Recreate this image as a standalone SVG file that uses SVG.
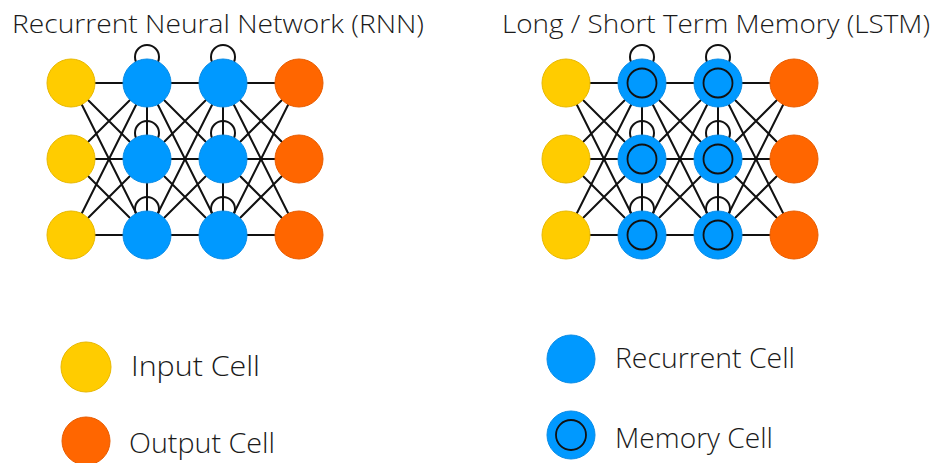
<svg xmlns="http://www.w3.org/2000/svg" width="934" height="463" viewBox="0 0 934 463">
  <style>
    .title { font-family: "Open Sans", "Liberation Sans", sans-serif; font-weight: 300; font-size: 26px; fill: #1a1a1a; }
    .label { font-family: "Open Sans", "Liberation Sans", sans-serif; font-weight: 300; font-size: 28px; fill: #1a1a1a; }
    .edge { fill: none; stroke: #111; stroke-width: 2; }
    .loop { fill: none; stroke: #111; stroke-width: 2; }
    .input { fill: #ffcc00; stroke: #e8b800; stroke-width: 1; }
    .output { fill: #ff6600; stroke: #e85c00; stroke-width: 1; }
    .recurrent { fill: #0099ff; stroke: #0a8ce6; stroke-width: 1; }
    .memory-core { fill: #0099ff; stroke: #111; stroke-width: 1.8; }
  </style>
  <defs>
    <circle id="cell" r="24"/>
  </defs>
  <rect width="934" height="463" fill="#ffffff"/>

  <!-- titles -->
  <text class="title" x="12" y="33" textLength="412" lengthAdjust="spacingAndGlyphs">Recurrent Neural Network (RNN)</text>
  <text class="title" x="502" y="33" textLength="428" lengthAdjust="spacingAndGlyphs">Long / Short Term Memory (LSTM)</text>

  <!-- connectors (drawn beneath the cells) -->
  <g id="connectors">
    <!-- RNN: input -> hidden 1 -->
    <path class="edge" d="M71 83L147 83M71 83L147 159M71 83L147 235M71 159L147 83M71 159L147 159M71 159L147 235M71 235L147 83M71 235L147 159M71 235L147 235"/>
    <!-- RNN: hidden 1 -> hidden 2 -->
    <path class="edge" d="M147 83L223 83M147 83L223 159M147 83L223 235M147 159L223 83M147 159L223 159M147 159L223 235M147 235L223 83M147 235L223 159M147 235L223 235"/>
    <!-- RNN: hidden 2 -> output -->
    <path class="edge" d="M223 83L299 83M223 83L299 159M223 83L299 235M223 159L299 83M223 159L299 159M223 159L299 235M223 235L299 83M223 235L299 159M223 235L299 235"/>
    <!-- RNN: links within hidden columns -->
    <path class="edge" d="M147 83L147 235M223 83L223 235"/>
    <!-- RNN: self loops -->
    <circle class="loop" cx="147" cy="57" r="12"/>
    <circle class="loop" cx="147" cy="133" r="12"/>
    <circle class="loop" cx="147" cy="209" r="12"/>
    <circle class="loop" cx="223" cy="57" r="12"/>
    <circle class="loop" cx="223" cy="133" r="12"/>
    <circle class="loop" cx="223" cy="209" r="12"/>

    <!-- LSTM: input -> hidden 1 -->
    <path class="edge" d="M566 83L642 83M566 83L642 159M566 83L642 235M566 159L642 83M566 159L642 159M566 159L642 235M566 235L642 83M566 235L642 159M566 235L642 235"/>
    <!-- LSTM: hidden 1 -> hidden 2 -->
    <path class="edge" d="M642 83L718 83M642 83L718 159M642 83L718 235M642 159L718 83M642 159L718 159M642 159L718 235M642 235L718 83M642 235L718 159M642 235L718 235"/>
    <!-- LSTM: hidden 2 -> output -->
    <path class="edge" d="M718 83L794 83M718 83L794 159M718 83L794 235M718 159L794 83M718 159L794 159M718 159L794 235M718 235L794 83M718 235L794 159M718 235L794 235"/>
    <!-- LSTM: links within hidden columns -->
    <path class="edge" d="M642 83L642 235M718 83L718 235"/>
    <!-- LSTM: self loops -->
    <circle class="loop" cx="642" cy="57" r="12"/>
    <circle class="loop" cx="642" cy="133" r="12"/>
    <circle class="loop" cx="642" cy="209" r="12"/>
    <circle class="loop" cx="718" cy="57" r="12"/>
    <circle class="loop" cx="718" cy="133" r="12"/>
    <circle class="loop" cx="718" cy="209" r="12"/>
  </g>

  <!-- RNN cells -->
  <g id="rnn-in-1"><use href="#cell" class="input" x="71" y="83"/></g>
  <g id="rnn-in-2"><use href="#cell" class="input" x="71" y="159"/></g>
  <g id="rnn-in-3"><use href="#cell" class="input" x="71" y="235"/></g>
  <g id="rnn-h1-1"><use href="#cell" class="recurrent" x="147" y="83"/></g>
  <g id="rnn-h1-2"><use href="#cell" class="recurrent" x="147" y="159"/></g>
  <g id="rnn-h1-3"><use href="#cell" class="recurrent" x="147" y="235"/></g>
  <g id="rnn-h2-1"><use href="#cell" class="recurrent" x="223" y="83"/></g>
  <g id="rnn-h2-2"><use href="#cell" class="recurrent" x="223" y="159"/></g>
  <g id="rnn-h2-3"><use href="#cell" class="recurrent" x="223" y="235"/></g>
  <g id="rnn-out-1"><use href="#cell" class="output" x="299" y="83"/></g>
  <g id="rnn-out-2"><use href="#cell" class="output" x="299" y="159"/></g>
  <g id="rnn-out-3"><use href="#cell" class="output" x="299" y="235"/></g>

  <!-- LSTM cells -->
  <g id="lstm-in-1"><use href="#cell" class="input" x="566" y="83"/></g>
  <g id="lstm-in-2"><use href="#cell" class="input" x="566" y="159"/></g>
  <g id="lstm-in-3"><use href="#cell" class="input" x="566" y="235"/></g>
  <g id="lstm-h1-1"><use href="#cell" class="recurrent" x="642" y="83"/><circle class="memory-core" cx="642" cy="83" r="14.5"/></g>
  <g id="lstm-h1-2"><use href="#cell" class="recurrent" x="642" y="159"/><circle class="memory-core" cx="642" cy="159" r="14.5"/></g>
  <g id="lstm-h1-3"><use href="#cell" class="recurrent" x="642" y="235"/><circle class="memory-core" cx="642" cy="235" r="14.5"/></g>
  <g id="lstm-h2-1"><use href="#cell" class="recurrent" x="718" y="83"/><circle class="memory-core" cx="718" cy="83" r="14.5"/></g>
  <g id="lstm-h2-2"><use href="#cell" class="recurrent" x="718" y="159"/><circle class="memory-core" cx="718" cy="159" r="14.5"/></g>
  <g id="lstm-h2-3"><use href="#cell" class="recurrent" x="718" y="235"/><circle class="memory-core" cx="718" cy="235" r="14.5"/></g>
  <g id="lstm-out-1"><use href="#cell" class="output" x="794" y="83"/></g>
  <g id="lstm-out-2"><use href="#cell" class="output" x="794" y="159"/></g>
  <g id="lstm-out-3"><use href="#cell" class="output" x="794" y="235"/></g>

  <!-- legend -->
  <g id="legend-input">
    <circle class="input" cx="86" cy="367" r="25"/>
    <text class="label" x="131" y="376" textLength="129" lengthAdjust="spacingAndGlyphs">Input Cell</text>
  </g>
  <g id="legend-output">
    <circle class="output" cx="86" cy="441" r="24"/>
    <text class="label" x="129" y="453" textLength="146" lengthAdjust="spacingAndGlyphs">Output Cell</text>
  </g>
  <g id="legend-recurrent">
    <circle class="recurrent" cx="571" cy="359" r="24"/>
    <text class="label" x="615" y="368" textLength="180" lengthAdjust="spacingAndGlyphs">Recurrent Cell</text>
  </g>
  <g id="legend-memory">
    <circle class="recurrent" cx="571" cy="435" r="24"/>
    <circle class="memory-core" cx="571" cy="435" r="15"/>
    <text class="label" x="615" y="448" textLength="158" lengthAdjust="spacingAndGlyphs">Memory Cell</text>
  </g>
</svg>
